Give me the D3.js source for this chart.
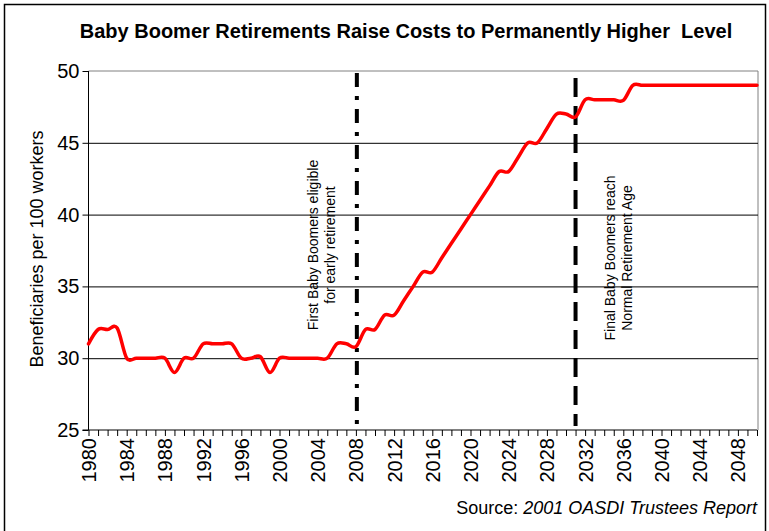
<!DOCTYPE html>
<html>
<head>
<meta charset="utf-8">
<script src="https://cdn.jsdelivr.net/npm/d3@7"></script>
<style>
  html, body { margin: 0; padding: 0; background: #fff; }
  svg { display: block; font-family: "Liberation Sans", Arial, sans-serif; }
</style>
</head>
<body>
<svg id="chart" width="769" height="531"></svg>
<script>
// ---- data ----
const years = d3.range(1980, 2051);
const beneficiaries = [
  31, 32, 32, 32.1, 30, 30, 30, 30, 30, 29,      // 1980-1989
  30, 30, 31, 31, 31, 31, 30, 30, 30.1, 29,      // 1990-1999
  30, 30, 30, 30, 30, 30, 31, 31, 30.8, 32,      // 2000-2009
  32, 33, 33, 34, 35, 36, 36, 37, 38, 39,        // 2010-2019
  40, 41, 42, 43, 43, 44, 45, 45, 46, 47,        // 2020-2029
  47, 46.8, 48, 48, 48, 48, 47.95, 49, 49, 49,   // 2030-2039
  49, 49, 49, 49, 49, 49, 49, 49, 49, 49,        // 2040-2049
  49                                             // 2050
];
const yTicks = [25, 30, 35, 40, 45, 50];
const xLabelYears = d3.range(1980, 2051, 4);
const markerYears = [2008.1, 2031];
const markerLabels = [
  ["First Baby Boomers eligible", "for early retirement"],
  ["Final Baby Boomers reach", "Normal Retirement Age"]
];
const titleText = "Baby Boomer Retirements Raise Costs to Permanently Higher\u00a0 Level";
const yTitle = "Beneficiaries per 100 workers";

// ---- layout ----
const svg = d3.select("#chart");
const pLeft = 88.5, pRight = 757, pTop = 71, pBottom = 430;

const x = d3.scaleLinear().domain([1980, 2050]).range([pLeft, pRight]);
const y = d3.scaleLinear().domain([25, 50]).range([pBottom, pTop]);

// outer frame
svg.append("rect").attr("x", 4.5).attr("y", 4.5).attr("width", 761).attr("height", 540)
  .attr("fill", "none").attr("stroke", "#000").attr("stroke-width", 1.5);

// title
svg.append("text").attr("x", 406).attr("y", 38).attr("text-anchor", "middle")
  .attr("font-size", 20).attr("font-weight", "bold").text(titleText);

// plot border (top/right gray)
svg.append("path")
  .attr("d", `M${pLeft},${y(50)}H${pRight + 1}V${pBottom}`)
  .attr("fill", "none").attr("stroke", "#808080").attr("stroke-width", 1);

// gridlines
const grid = svg.append("g").attr("transform", `translate(${pLeft},0)`)
  .call(d3.axisLeft(y).tickValues([30, 35, 40, 45]).tickSize(-(pRight + 1 - pLeft)).tickFormat(""));
grid.select(".domain").remove();
grid.selectAll("line").attr("stroke", "#000").attr("stroke-width", 1);

// y axis
const yAxis = svg.append("g").attr("transform", `translate(${pLeft},0)`)
  .call(d3.axisLeft(y).tickValues(yTicks).tickSize(6).tickPadding(3).tickFormat(d3.format("d")));
yAxis.select(".domain").attr("stroke", "#000").attr("d", `M0,${y(50)}V${pBottom}`);
yAxis.selectAll("line").attr("stroke", "#000");
yAxis.selectAll("text").attr("font-size", 20).attr("fill", "#000")
  .attr("font-family", "'Liberation Sans', Arial, sans-serif");

// x axis
const xAxis = svg.append("g").attr("transform", `translate(0,${pBottom})`)
  .call(d3.axisBottom(x).tickValues(years).tickSize(6)
    .tickFormat(d => (xLabelYears.includes(d) ? String(d) : "")));
xAxis.select(".domain").attr("stroke", "#000").attr("d", `M${pLeft - 6},0H${pRight}`);
xAxis.selectAll("line").attr("stroke", "#000");
xAxis.selectAll("text")
  .attr("font-size", 20).attr("fill", "#000")
  .attr("font-family", "'Liberation Sans', Arial, sans-serif")
  .attr("transform", "rotate(-90)")
  .attr("text-anchor", "end")
  .attr("x", -8).attr("y", 0).attr("dy", "0.35em");

// y title
svg.append("text")
  .attr("transform", `translate(43,249) rotate(-90)`)
  .attr("text-anchor", "middle").attr("font-size", 18).text(yTitle);

// vertical marker lines
svg.append("line")
  .attr("x1", x(markerYears[0])).attr("x2", x(markerYears[0]))
  .attr("y1", 73).attr("y2", 426)
  .attr("stroke", "#000").attr("stroke-width", 4)
  .attr("stroke-dasharray", "14 9 4 9");
svg.append("line")
  .attr("x1", x(markerYears[1])).attr("x2", x(markerYears[1]))
  .attr("y1", 78).attr("y2", 426)
  .attr("stroke", "#000").attr("stroke-width", 4)
  .attr("stroke-dasharray", "19 9");

// marker labels
const labelPos = [[313, 245], [610, 258]];
markerLabels.forEach((lines, i) => {
  const g = svg.append("text")
    .attr("transform", `translate(${labelPos[i][0]},${labelPos[i][1]}) rotate(-90)`)
    .attr("text-anchor", "middle").attr("font-size", 14);
  lines.forEach((t, j) => {
    g.append("tspan").attr("x", 0).attr("dy", j === 0 ? "0.35em" : "1.2em").text(t);
  });
});

// data line
const line = d3.line()
  .x((d, i) => x(years[i]))
  .y(d => y(d))
  .curve(d3.curveCardinal.tension(0));
svg.append("path").datum(beneficiaries)
  .attr("d", line).attr("fill", "none")
  .attr("stroke", "#ff0000").attr("stroke-width", 3.5)
  .attr("stroke-linejoin", "round").attr("stroke-linecap", "round");

// source
const src = svg.append("text").attr("x", 757).attr("y", 514)
  .attr("text-anchor", "end").attr("font-size", 18);
src.append("tspan").text("Source: ");
src.append("tspan").attr("font-style", "italic").text("2001 OASDI Trustees Report");
</script>
</body>
</html>
